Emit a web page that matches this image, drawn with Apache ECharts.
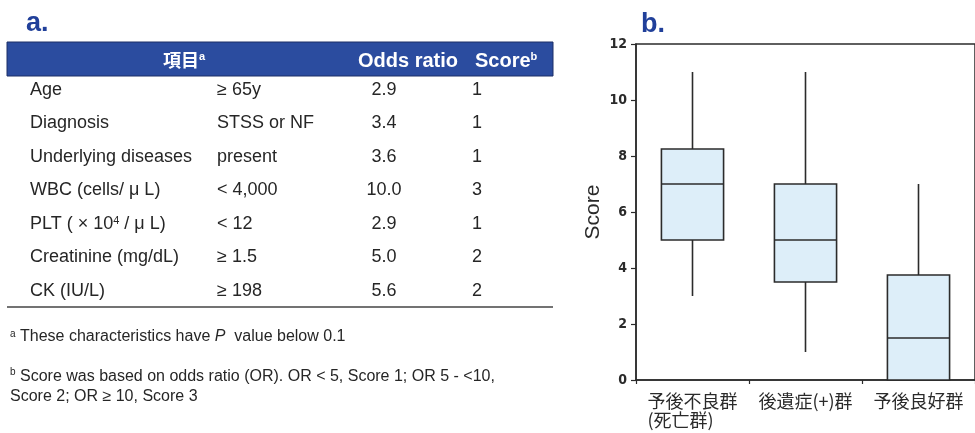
<!DOCTYPE html>
<html>
<head>
<meta charset="utf-8">
<script src="https://cdn.jsdelivr.net/npm/echarts@6/dist/echarts.min.js"></script>
<style>
  html, body { margin: 0; padding: 0; background: #fff; }
  #chart { width: 975px; height: 433px; }
</style>
</head>
<body>
<div id="chart"></div>
<script>
// ---- Table a.: risk factors, odds ratios and scores ----
const factorNames = ['Age', 'Diagnosis', 'Underlying diseases', 'WBC (cells/ μ L)',
  'PLT ( × 10{sup|4} / μ L)', 'Creatinine (mg/dL)', 'CK (IU/L)'];
const factorCutoffs = ['≥ 65y', 'STSS or NF', 'present', '< 4,000', '< 12', '≥ 1.5', '≥ 198'];
const oddsRatios = ['2.9', '3.4', '3.6', '10.0', '2.9', '5.0', '5.6'];
const factorScores = ['1', '1', '1', '3', '1', '2', '2'];
const tableHeaders = ['項目{sup|a}', 'Odds ratio', 'Score{sup|b}'];
const footnotes = [
  '{sup|a} These characteristics have {it|P}  value below 0.1',
  '{sup|b} Score was based on odds ratio (OR). OR < 5, Score 1; OR 5 - <10,\nScore 2; OR ≥ 10, Score 3'
];

// ---- Box plot b.: score distribution by outcome group ----
const outcomeGroups = ['予後不良群\n(死亡群)', '後遺症(+)群', '予後良好群'];
const whiskerLow = [3, 1, 0];
const quartile1 = [5, 3.5, 0];
const medianScore = [7, 5, 1.5];
const quartile3 = [8.25, 7, 3.75];
const whiskerHigh = [11, 11, 7];
const scoreTicks = { min: 0, max: 12, interval: 2 };

const LATIN = '"Liberation Sans", Arial, sans-serif';
const CJK = '"Noto Sans CJK JP", sans-serif';
const NARROW = '"Liberation Sans Narrow", "DejaVu Sans Condensed", "Liberation Sans", sans-serif';
const TEXT = '#262626';
const BLUE = '#21409a';

const supRich = {
  sup: { fontSize: 10, verticalAlign: 'top', fill: TEXT, color: TEXT, fontFamily: LATIN },
  it: { fontStyle: 'italic', fontSize: 16, fill: TEXT, color: TEXT, fontFamily: LATIN }
};

function txt(x, y, text, opts) {
  return {
    type: 'text', x: x, y: y, silent: true,
    style: Object.assign({
      text: text, fill: TEXT,
      font: '18px ' + LATIN,
      align: 'left', textAlign: 'left',
      verticalAlign: 'middle', textVerticalAlign: 'middle'
    }, opts || {})
  };
}

const graphics = [];
// panel letters
graphics.push(txt(26, 24, 'a.', { fill: BLUE, font: 'bold 27px ' + LATIN }));
graphics.push(txt(641, 25, 'b.', { fill: BLUE, font: 'bold 27px ' + LATIN }));

// table header band
graphics.push({ type: 'rect', silent: true, shape: { x: 7, y: 42, width: 546, height: 34 },
  style: { fill: '#2b4c9f', stroke: '#1d2f66', lineWidth: 1 } });
const headerSup = { sup: { fontSize: 11, verticalAlign: 'top', fill: '#fff', color: '#fff', fontFamily: LATIN, fontWeight: 'bold' } };
graphics.push(txt(163, 60, tableHeaders[0], { fill: '#fff', font: 'bold 18px ' + CJK, rich: headerSup }));
graphics.push(txt(358, 61, tableHeaders[1], { fill: '#fff', font: 'bold 20px ' + LATIN }));
graphics.push(txt(475, 61, tableHeaders[2], { fill: '#fff', font: 'bold 20px ' + LATIN, rich: headerSup }));

// table body rows
const rowTop = 90, rowStep = 33.5;
factorNames.forEach(function (name, i) {
  const y = rowTop + i * rowStep;
  graphics.push(txt(30, y, name, { rich: { sup: { fontSize: 11, verticalAlign: 'top', fill: TEXT, fontFamily: LATIN } } }));
  graphics.push(txt(217, y, factorCutoffs[i]));
  graphics.push(txt(384, y, oddsRatios[i], { align: 'center', textAlign: 'center' }));
  graphics.push(txt(477, y, factorScores[i], { align: 'center', textAlign: 'center' }));
});
// rule under the table
graphics.push({ type: 'line', silent: true, shape: { x1: 7, y1: 307, x2: 553, y2: 307 },
  style: { stroke: '#444', lineWidth: 1.5 } });

// footnotes
graphics.push(txt(10, 337, footnotes[0], { font: '16px ' + LATIN, rich: supRich }));
graphics.push(txt(10, 387, footnotes[1], { font: '16px ' + LATIN, rich: supRich, lineHeight: 20 }));

const boxRows = outcomeGroups.map(function (g, i) {
  return [i, whiskerLow[i], quartile1[i], medianScore[i], quartile3[i], whiskerHigh[i]];
});

function renderBox(params, api) {
  const idx = api.value(0);
  const cx = api.coord([idx, 0])[0];
  const band = api.size([1, 0])[0];
  const half = band * 0.275;
  const yLow = api.coord([idx, api.value(1)])[1];
  const yQ1 = api.coord([idx, api.value(2)])[1];
  const yMed = api.coord([idx, api.value(3)])[1];
  const yQ3 = api.coord([idx, api.value(4)])[1];
  const yHigh = api.coord([idx, api.value(5)])[1];
  const stroke = { stroke: '#2b2b2b', lineWidth: 1.6, fill: null };
  const kids = [];
  if (yHigh < yQ3) kids.push({ type: 'line', shape: { x1: cx, y1: yHigh, x2: cx, y2: yQ3 }, style: stroke });
  if (yLow > yQ1) kids.push({ type: 'line', shape: { x1: cx, y1: yQ1, x2: cx, y2: yLow }, style: stroke });
  kids.push({ type: 'rect', shape: { x: cx - half, y: yQ3, width: half * 2, height: yQ1 - yQ3 },
    style: { fill: '#ddeef9', stroke: '#2b2b2b', lineWidth: 1.6 } });
  kids.push({ type: 'line', shape: { x1: cx - half, y1: yMed, x2: cx + half, y2: yMed }, style: stroke });
  return { type: 'group', children: kids };
}

const chart = echarts.init(document.getElementById('chart'), null, { renderer: 'canvas' });
chart.setOption({
  animation: false,
  backgroundColor: '#fff',
  grid: { left: 636, top: 44, width: 342, height: 336, show: true,
    borderColor: '#2b2b2b', borderWidth: 1.5, backgroundColor: 'transparent' },
  xAxis: {
    type: 'category', data: outcomeGroups,
    axisLine: { lineStyle: { color: '#2b2b2b', width: 1.5 } },
    axisTick: { show: true, interval: 0, length: 4, lineStyle: { color: '#2b2b2b', width: 1.2 } },
    axisLabel: {
      interval: 0, hideOverlap: false,
      margin: 12, color: '#2a2a2a', fontFamily: CJK, fontSize: 18, lineHeight: 19,
      formatter: function (v) {
        const parts = v.split('\n');
        return parts.length > 1 ? '{m|' + parts[0] + '}\n{s|' + parts[1] + '}' : '{m|' + parts[0] + '}';
      },
      rich: {
        m: { fontFamily: CJK, fontSize: 18, color: '#2a2a2a', lineHeight: 19 },
        s: { fontFamily: CJK, fontSize: 18, color: '#2a2a2a', width: 90, align: 'left', lineHeight: 19 }
      }
    },
    splitLine: { show: false }
  },
  yAxis: {
    type: 'value', min: scoreTicks.min, max: scoreTicks.max, interval: scoreTicks.interval,
    name: 'Score', nameLocation: 'middle', nameGap: 32, nameRotate: 90,
    nameTextStyle: { fontFamily: LATIN, fontSize: 21, color: '#2a2a2a' },
    axisLine: { show: true, lineStyle: { color: '#2b2b2b', width: 1.5 } },
    axisTick: { show: true, length: 5, lineStyle: { color: '#2b2b2b', width: 1.2 } },
    axisLabel: { margin: 9, fontFamily: NARROW, fontWeight: 'bold', fontSize: 14, color: '#2a2a2a' },
    splitLine: { show: false }
  },
  series: [{
    type: 'custom', renderItem: renderBox, data: boxRows,
    encode: { x: 0, y: [1, 2, 3, 4, 5] }, clip: false
  }],
  graphic: { elements: graphics }
});
</script>
</body>
</html>
